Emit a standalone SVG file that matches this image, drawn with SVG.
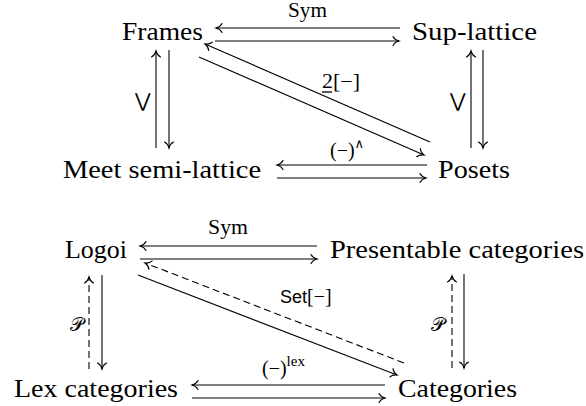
<svg xmlns="http://www.w3.org/2000/svg" width="586" height="406" viewBox="0 0 586 406">
<defs>
<style>
.n{font-family:"Liberation Serif","DejaVu Serif",serif;font-size:25px;fill:#000}
.l{font-family:"Liberation Serif","DejaVu Serif",serif;font-size:20px;fill:#000}
.s{font-family:"Liberation Sans","DejaVu Sans",sans-serif;fill:#000}
.v{font-family:"DejaVu Sans",sans-serif;font-weight:200;font-size:19px;fill:#000}
.p{font-family:"DejaVu Serif","DejaVu Sans",serif;font-size:19px;fill:#000}
.a{stroke:#000;stroke-width:1.1;fill:none;marker-end:url(#to)}
.d{stroke-dasharray:7 4}
</style>
<marker id="to" markerUnits="userSpaceOnUse" markerWidth="14" markerHeight="14" refX="0" refY="0" viewBox="-8 -7 10 14" orient="auto" overflow="visible">
<path d="M-6,-4.5 C-4.5,-1.6 -1.5,-0.4 0,0 C-1.5,0.4 -4.5,1.6 -6,4.5" stroke="#000" stroke-width="1.1" fill="none" stroke-linecap="round"/>
</marker>
</defs>
<rect width="586" height="406" fill="#fff"/>
<g id="frames"><text class="n" x="122" y="40" textLength="81" lengthAdjust="spacingAndGlyphs">Frames</text></g>
<g id="suplattice"><text class="n" x="412" y="40" textLength="125" lengthAdjust="spacingAndGlyphs">Sup-lattice</text></g>
<g id="meet"><text class="n" x="63" y="178" textLength="198" lengthAdjust="spacingAndGlyphs">Meet semi-lattice</text></g>
<g id="posets"><text class="n" x="438" y="178" textLength="72" lengthAdjust="spacingAndGlyphs">Posets</text></g>
<g id="logoi"><text class="n" x="65" y="258" textLength="62" lengthAdjust="spacingAndGlyphs">Logoi</text></g>
<g id="presentable"><text class="n" x="330" y="258" textLength="254" lengthAdjust="spacingAndGlyphs">Presentable categories</text></g>
<g id="lex"><text class="n" x="14" y="397" textLength="164" lengthAdjust="spacingAndGlyphs">Lex categories</text></g>
<g id="categories"><text class="n" x="398" y="397" textLength="119" lengthAdjust="spacingAndGlyphs">Categories</text></g>
<g id="connectors">
<line class="a" x1="400" y1="28" x2="216" y2="28"/>
<line class="a" x1="215" y1="41" x2="399" y2="41"/>
<line class="a" x1="156" y1="148" x2="156" y2="51"/>
<line class="a" x1="169" y1="50" x2="169" y2="148"/>
<line class="a" x1="483" y1="50" x2="483" y2="148"/>
<line class="a" x1="471" y1="148" x2="471" y2="51"/>
<line class="a" x1="430" y1="142" x2="205" y2="44"/>
<line class="a" x1="199" y1="57" x2="424" y2="155"/>
<line class="a" x1="427" y1="165" x2="277" y2="165"/>
<line class="a" x1="277" y1="178" x2="426" y2="178"/>
<line class="a" x1="317" y1="246" x2="140" y2="246"/>
<line class="a" x1="140" y1="259" x2="317" y2="259"/>
<line class="a d" x1="404" y1="363" x2="145" y2="263"/>
<line class="a" x1="138" y1="275" x2="397" y2="375"/>
<line class="a d" x1="89" y1="369" x2="89" y2="277"/>
<line class="a" x1="102" y1="275" x2="102" y2="369"/>
<line class="a d" x1="452" y1="368" x2="452" y2="276"/>
<line class="a" x1="464" y1="274" x2="464" y2="368"/>
<line class="a" x1="385" y1="385" x2="192" y2="385"/>
<line class="a" x1="192" y1="398" x2="385" y2="398"/>
</g>
<g id="labels">
<text class="l" x="288" y="17" font-size="17" textLength="39" lengthAdjust="spacingAndGlyphs">Sym</text>
<text class="v" x="143" y="107" text-anchor="middle">⋁</text>
<text class="v" x="458" y="107" text-anchor="middle">⋁</text>
<text class="l" x="322" y="88" textLength="38" lengthAdjust="spacingAndGlyphs">2[−]</text>
<line x1="322" y1="92" x2="332" y2="92" stroke="#000" stroke-width="1.3"/>
<text class="l" x="330" y="157">(−)<tspan font-size="13" dy="-9">∧</tspan></text>
<text class="l" x="208" y="234" font-size="17" textLength="40" lengthAdjust="spacingAndGlyphs">Sym</text>
<text x="280" y="303"><tspan class="s" font-size="18">Set</tspan><tspan class="l">[−]</tspan></text>
<text class="l" x="262" y="375">(−)<tspan font-size="15" dy="-9">lex</tspan></text>
<text class="p" x="77" y="331" text-anchor="middle">𝒫</text>
<text class="p" x="438" y="331" text-anchor="middle">𝒫</text>
</g>
</svg>
